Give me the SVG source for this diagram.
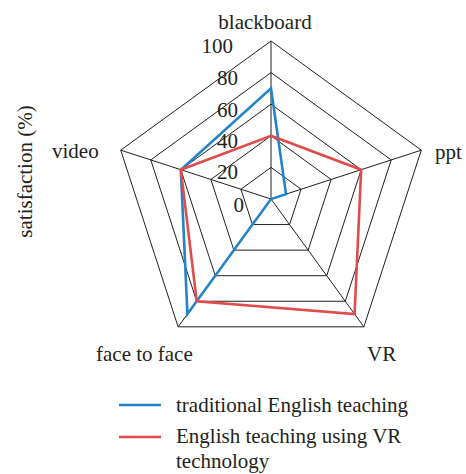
<svg xmlns="http://www.w3.org/2000/svg" width="466" height="474" viewBox="0 0 466 474">
<style>
text{font-family:"Liberation Serif","Times New Roman",serif;font-size:21px;fill:#231f20}
.grid{fill:none;stroke:#231f20;stroke-width:1}
.blue{fill:none;stroke:#2383c8;stroke-width:2.6;stroke-linejoin:miter}
.red{fill:none;stroke:#e04c4c;stroke-width:2.6;stroke-linejoin:miter}
</style>
<rect width="466" height="474" fill="#ffffff"/>
<g id="grid">
<polygon class="grid" points="271,167.4 301.05,189.24 289.57,224.56 252.43,224.56 240.95,189.24"/>
<polygon class="grid" points="271,135.8 331.11,179.47 308.15,250.13 233.85,250.13 210.89,179.47"/>
<polygon class="grid" points="271,104.2 361.16,169.71 326.72,275.69 215.28,275.69 180.84,169.71"/>
<polygon class="grid" points="271,72.6 391.21,159.94 345.3,301.26 196.7,301.26 150.79,159.94"/>
<polygon class="grid" points="271,41 421.27,150.17 363.87,326.83 178.13,326.83 120.73,150.17"/>
<g id="connectors">
<line class="grid" x1="271" y1="199" x2="271" y2="41"/>
<line class="grid" x1="271" y1="199" x2="421.27" y2="150.17"/>
<line class="grid" x1="271" y1="199" x2="363.87" y2="326.83"/>
<line class="grid" x1="271" y1="199" x2="178.13" y2="326.83"/>
<line class="grid" x1="271" y1="199" x2="120.73" y2="150.17"/>
</g>
</g>
<g id="ticks">
<text x="233" y="53" text-anchor="end">100</text>
<text x="238" y="85" text-anchor="end">80</text>
<text x="238" y="117" text-anchor="end">60</text>
<text x="238" y="148" text-anchor="end">40</text>
<text x="238" y="179" text-anchor="end">20</text>
<text x="244" y="212" text-anchor="end">0</text>
</g>
<g id="series-traditional">
<polygon class="blue" points="271,88.4 286.03,194.12 271,199 187.42,314.04 180.84,169.71"/>
</g>
<g id="series-vr">
<polygon class="red" points="271,135.8 361.16,169.71 354.58,314.04 196.7,301.26 180.84,169.71"/>
</g>
<g id="axis-labels">
<text id="blackboard" x="265" y="29" text-anchor="middle">blackboard</text>
<text id="ppt" x="435" y="159">ppt</text>
<text id="VR" x="367" y="361">VR</text>
<text id="face-to-face" x="96" y="361">face to face</text>
<text id="video" x="52" y="158">video</text>
<text id="y-title" transform="translate(32,171.5) rotate(-90)" text-anchor="middle">satisfaction (%)</text>
</g>
<g id="legend">
<line x1="119" y1="405" x2="161" y2="405" stroke="#2383c8" stroke-width="2.6"/>
<text x="176" y="412">traditional English teaching</text>
<line x1="119" y1="437" x2="161" y2="437" stroke="#e04c4c" stroke-width="2.6"/>
<text x="176" y="443">English teaching using VR</text>
<text x="176" y="468">technology</text>
</g>
</svg>
